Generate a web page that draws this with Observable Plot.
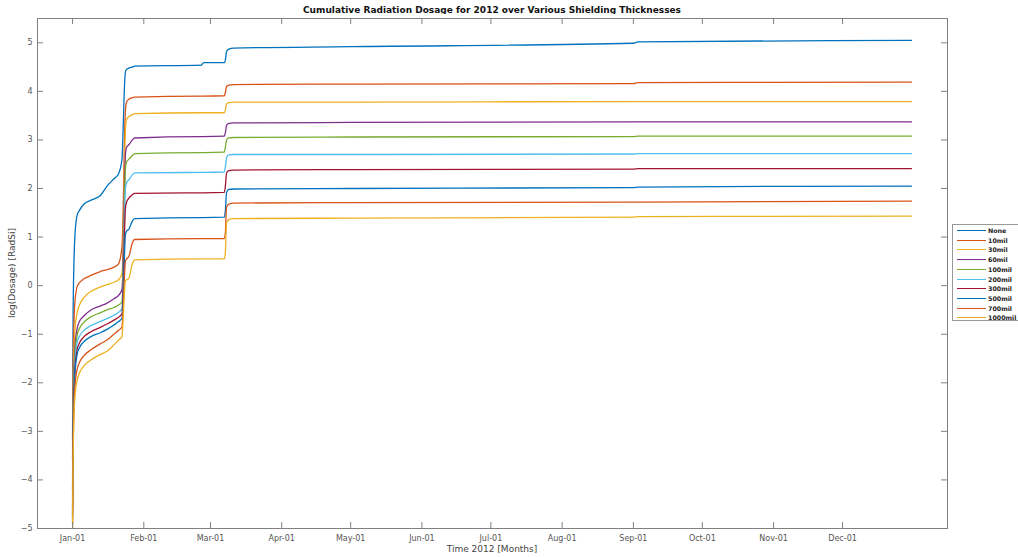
<!DOCTYPE html>
<html><head><meta charset="utf-8">
<script src="https://cdn.jsdelivr.net/npm/d3@7"></script>
<script src="https://cdn.jsdelivr.net/npm/@observablehq/plot@0.6"></script>
<style>
html,body{margin:0;padding:0;background:#fff;overflow:hidden;}
#wrap{position:relative;width:1018px;height:557px;font-family:"DejaVu Sans",sans-serif;overflow:hidden;}
#title{position:absolute;top:4px;left:37px;width:910px;line-height:12px;text-align:center;font-weight:bold;font-size:9px;color:#111;}
#chart{position:absolute;top:14px;left:0;}
#xlabel{position:absolute;top:543px;left:37px;width:910px;line-height:12px;text-align:center;font-size:9px;color:#444;}
#ylabel{position:absolute;left:12px;top:273px;transform:translate(-50%,-50%) rotate(-90deg);font-size:9px;color:#444;white-space:nowrap;line-height:12px;}
#legend{position:absolute;left:952px;top:224px;width:80px;height:97px;border:1px solid #999;background:#fff;box-sizing:border-box;}
.item{position:absolute;left:0;height:10px;width:80px;}
.item .sw{position:absolute;left:4px;top:4px;width:29px;height:0;border-top:1.5px solid;}
.item .lb{position:absolute;left:35px;top:0;font-size:6.3px;font-weight:bold;line-height:10px;color:#222;white-space:nowrap;}
</style>
</head><body>
<div id="wrap">
  <div id="title"></div>
  <div id="chart"></div>
  <div id="xlabel"></div>
  <div id="ylabel"></div>
  <div id="legend"></div>
</div>
<script>
const titleText = "Cumulative Radiation Dosage for 2012 over Various Shielding Thicknesses";
const xLabel = "Time 2012 [Months]";
const yLabel = "log(Dosage) [RadSi]";

const seriesNames = ["None","10mil","30mil","60mil","100mil","200mil","300mil","500mil","700mil","1000mil"];
const seriesColors = ["#0072BD","#D95319","#EDB120","#7E2F8E","#77AC30","#4DBEEE","#A2142F","#0072BD","#D95319","#EDB120"];

const dates = ["2012-01-01T00:00","2012-01-01T06:00","2012-01-02T00:00","2012-01-03T00:00","2012-01-04T00:00","2012-01-06T00:00","2012-01-09T00:00","2012-01-13T00:00","2012-01-16T00:00","2012-01-19T00:00","2012-01-21T00:00","2012-01-22T12:00","2012-01-23T00:00","2012-01-23T12:00","2012-01-24T00:00","2012-01-24T12:00","2012-01-25T12:00","2012-01-27T00:00","2012-01-28T00:00","2012-02-26T00:00","2012-02-27T00:00","2012-03-07T00:00","2012-03-07T12:00","2012-03-08T00:00","2012-03-09T00:00","2012-03-11T00:00","2012-05-01T00:00","2012-09-01T00:00","2012-09-03T00:00","2012-12-31T00:00"];

const sNone   = [-3.2,-0.5,1.0,1.45,1.55,1.68,1.76,1.85,2.05,2.2,2.3,2.6,3.2,4.0,4.4,4.45,4.48,4.5,4.52,4.54,4.59,4.59,4.65,4.82,4.87,4.89,4.92,4.99,5.02,5.05];
const s10mil  = [-3.6,-1.6,-0.35,-0.02,0.06,0.14,0.21,0.29,0.33,0.38,0.45,0.8,1.5,2.8,3.6,3.78,3.84,3.87,3.88,3.9,3.9,3.91,3.98,4.1,4.13,4.14,4.15,4.16,4.18,4.19];
const s30mil  = [-4.0,-2.2,-0.95,-0.55,-0.4,-0.24,-0.12,-0.03,0.02,0.07,0.12,0.25,0.8,2.2,3.2,3.42,3.48,3.52,3.54,3.56,3.56,3.56,3.62,3.74,3.77,3.78,3.78,3.79,3.79,3.79];
const s60mil  = [-4.2,-2.5,-1.3,-0.88,-0.74,-0.62,-0.5,-0.42,-0.36,-0.27,-0.2,-0.08,0.5,1.8,2.7,2.85,2.9,3.0,3.04,3.07,3.07,3.08,3.15,3.3,3.34,3.35,3.36,3.37,3.37,3.37];
const s100mil = [-4.4,-2.7,-1.45,-1.02,-0.88,-0.75,-0.64,-0.56,-0.5,-0.45,-0.4,-0.33,0.2,1.5,2.4,2.55,2.6,2.68,2.72,2.74,2.74,2.75,2.85,3.0,3.04,3.05,3.06,3.07,3.08,3.08];
const s200mil = [-4.6,-2.9,-1.6,-1.17,-1.04,-0.92,-0.82,-0.74,-0.68,-0.61,-0.55,-0.47,0.0,1.2,2.0,2.12,2.18,2.28,2.32,2.33,2.33,2.34,2.45,2.64,2.69,2.7,2.7,2.71,2.72,2.72];
const s300mil = [-4.7,-3.0,-1.75,-1.32,-1.18,-1.05,-0.95,-0.86,-0.79,-0.71,-0.65,-0.58,-0.1,0.9,1.6,1.72,1.8,1.87,1.9,1.91,1.91,1.92,2.05,2.32,2.37,2.38,2.39,2.4,2.41,2.41];
const s500mil = [-4.8,-3.1,-1.85,-1.42,-1.28,-1.15,-1.05,-0.97,-0.9,-0.81,-0.74,-0.67,-0.3,0.5,1.05,1.12,1.16,1.33,1.38,1.4,1.4,1.41,1.55,1.92,1.98,1.99,2.0,2.02,2.03,2.05];
const s700mil = [-4.9,-3.3,-2.1,-1.72,-1.58,-1.44,-1.32,-1.2,-1.12,-1.0,-0.92,-0.85,-0.5,0.1,0.5,0.55,0.6,0.88,0.95,0.97,0.97,0.97,1.1,1.62,1.68,1.7,1.71,1.72,1.72,1.74];
const s1000mil= [-5.2,-3.5,-2.3,-1.95,-1.8,-1.65,-1.53,-1.42,-1.35,-1.22,-1.12,-1.05,-0.7,-0.2,0.1,0.12,0.15,0.45,0.53,0.55,0.55,0.55,0.7,1.3,1.36,1.38,1.39,1.41,1.42,1.43];

const seriesValues = [sNone,s10mil,s30mil,s60mil,s100mil,s200mil,s300mil,s500mil,s700mil,s1000mil];

const monthTicks = ["2012-01-01","2012-02-01","2012-03-01","2012-04-01","2012-05-01","2012-06-01","2012-07-01","2012-08-01","2012-09-01","2012-10-01","2012-11-01","2012-12-01"];
const yTicks = [-5,-4,-3,-2,-1,0,1,2,3,4,5];
const xDomain = ["2011-12-16T18:00","2013-01-15T16:00"];
const yDomain = [-5, 5.5];

const parse = s => new Date(s.length > 10 ? s + ":00Z" : s + "T00:00:00Z");

const table = [];
seriesNames.forEach((name, i) => {
  seriesValues[i].forEach((v, j) => table.push({series: name, date: parse(dates[j]), value: v}));
});
const mt = monthTicks.map(parse);

const W = 1018, H = 543, mL = 37, mR = 71, mT = 4, mB = 29;
const fw = W - mL - mR, fh = H - mT - mB;
const tk = 6;
const axisColor = "#808080";

const chart = Plot.plot({
  width: W, height: H,
  marginLeft: mL, marginRight: mR, marginTop: mT, marginBottom: mB,
  style: {fontFamily: "DejaVu Sans, sans-serif", fontSize: "8px", background: "#fff"},
  x: {type: "utc", domain: xDomain.map(parse)},
  y: {domain: yDomain},
  color: {domain: seriesNames, range: seriesColors},
  marks: [
    Plot.line(table, {x: "date", y: "value", z: "series", stroke: "series", strokeWidth: 1.3, curve: "monotone-x", clip: true}),
    Plot.tickX(mt, {x: d => d, insetTop: fh - tk, stroke: axisColor}),
    Plot.tickX(mt, {x: d => d, insetBottom: fh - tk, stroke: axisColor}),
    Plot.tickY(yTicks, {y: d => d, insetRight: fw - tk, stroke: axisColor}),
    Plot.tickY(yTicks, {y: d => d, insetLeft: fw - tk, stroke: axisColor}),
    Plot.axisX({ticks: mt, tickSize: 0, tickPadding: 7, tickFormat: d3.utcFormat("%b-%d"), label: null, fill: "#555"}),
    Plot.axisY({ticks: yTicks, tickSize: 0, tickPadding: 5, label: null, fill: "#555"}),
    Plot.frame({stroke: axisColor, strokeWidth: 1})
  ]
});
document.getElementById("chart").appendChild(chart);
document.getElementById("title").textContent = titleText;
document.getElementById("xlabel").textContent = xLabel;
document.getElementById("ylabel").textContent = yLabel;

const lg = document.getElementById("legend");
seriesNames.forEach((name, i) => {
  const it = document.createElement("div");
  it.className = "item";
  it.style.top = (1 + i * 9.7) + "px";
  const sw = document.createElement("div");
  sw.className = "sw";
  sw.style.borderTopColor = seriesColors[i];
  const lb = document.createElement("div");
  lb.className = "lb";
  lb.textContent = name;
  it.appendChild(sw); it.appendChild(lb);
  lg.appendChild(it);
});
</script>
</body></html>
